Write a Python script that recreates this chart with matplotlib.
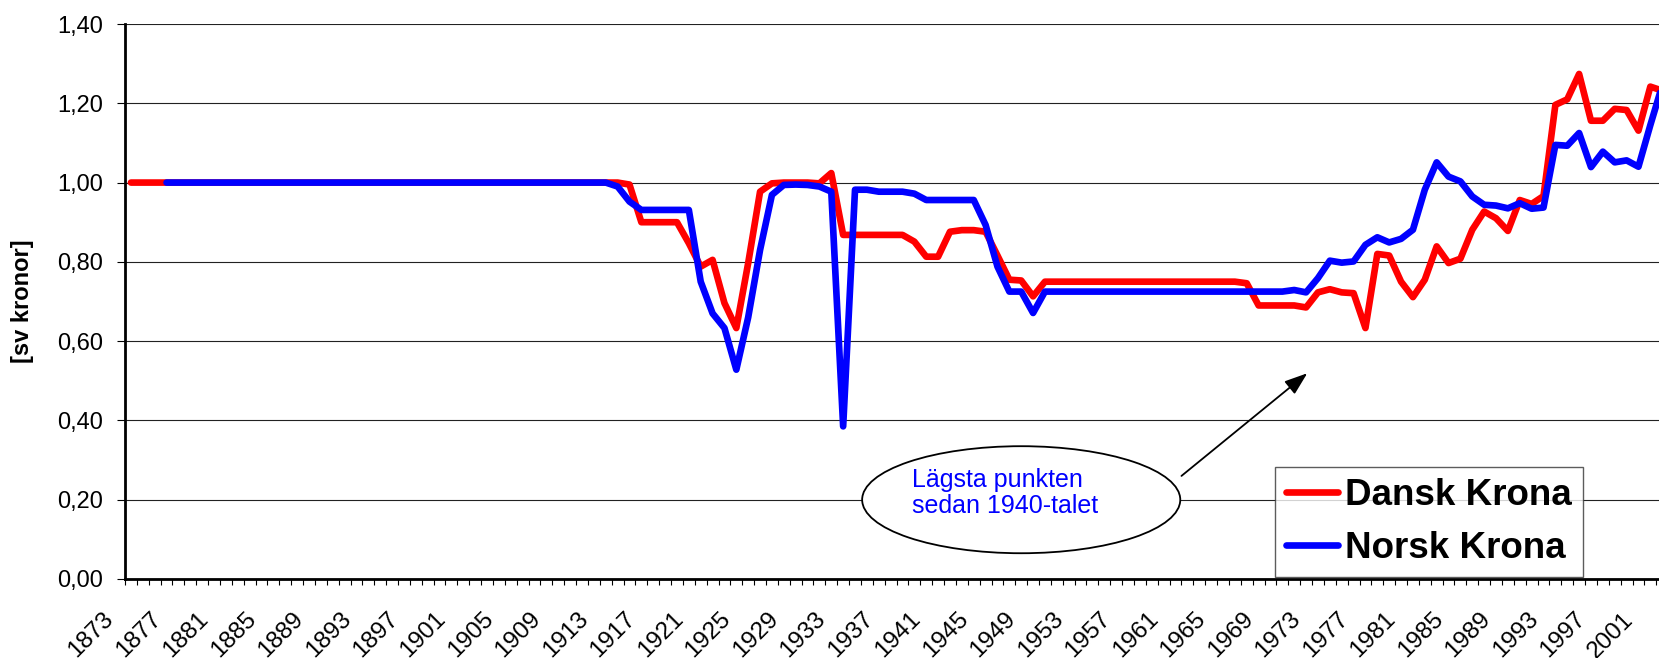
import numpy as np
import matplotlib
matplotlib.use("Agg")
import matplotlib.pyplot as plt
from matplotlib.patches import Ellipse
from matplotlib.transforms import ScaledTranslation

plt.rcParams['font.family'] = ['Liberation Sans', 'DejaVu Sans']

# one value per year, 1873-2002
years = np.arange(1873, 2003)

dansk = ([1.00] * 42                                   # 1873-1914
         + [0.995, 0.90, 0.90, 0.90, 0.90]             # 1915-1919
         + [0.847, 0.788, 0.805, 0.696, 0.633, 0.797, 0.977, 0.998]  # 1920-1927
         + [1.00, 1.00, 1.00, 0.998, 1.024]            # 1928-1932
         + [0.868] * 6                                 # 1933-1938
         + [0.851, 0.813, 0.813, 0.876, 0.88, 0.88, 0.876, 0.816, 0.755, 0.753, 0.713]  # 1939-1949
         + [0.75] * 17                                 # 1950-1966
         + [0.746, 0.69, 0.69, 0.69, 0.69, 0.685]      # 1967-1972
         + [0.723, 0.731, 0.723, 0.721, 0.633, 0.82, 0.816, 0.75, 0.711, 0.755,   # 1973-1982
            0.839, 0.797, 0.808, 0.881, 0.927, 0.91, 0.878, 0.956, 0.946, 0.966,  # 1983-1992
            1.196, 1.21, 1.274, 1.156, 1.156, 1.186, 1.183, 1.131, 1.242, 1.232]) # 1993-2002

norsk = ([np.nan] * 3                                  # 1873-1875
         + [1.00] * 38                                 # 1876-1913
         + [0.99, 0.952]                               # 1914-1915
         + [0.931] * 5                                 # 1916-1920
         + [0.75, 0.67, 0.633, 0.528, 0.66, 0.83, 0.969, 0.994, 0.995, 0.994,  # 1921-1930
            0.99, 0.977, 0.385, 0.982, 0.982]          # 1931-1935
         + [0.977] * 3                                 # 1936-1938
         + [0.972]                                     # 1939
         + [0.956] * 5                                 # 1940-1944
         + [0.893, 0.788, 0.725, 0.725, 0.671]         # 1945-1949
         + [0.725] * 21                                # 1950-1970
         + [0.729, 0.723]                              # 1971-1972
         + [0.759, 0.803, 0.798, 0.801, 0.843, 0.862, 0.849, 0.858, 0.881, 0.982,  # 1973-1982
            1.051, 1.015, 1.003, 0.965, 0.944, 0.942, 0.935, 0.948, 0.934, 0.937,  # 1983-1992
            1.095, 1.093, 1.125, 1.039, 1.078, 1.051, 1.056, 1.04, 1.145, 1.245])  # 1993-2002

label_years = np.arange(1873, 2002, 4)
y_ticks = [0.0, 0.2, 0.4, 0.6, 0.8, 1.0, 1.2, 1.4]
y_labels = ['0,00', '0,20', '0,40', '0,60', '0,80', '1,00', '1,20', '1,40']

fig = plt.figure(figsize=(16.59, 6.58), dpi=100)
ax = fig.add_axes([125 / 1659, 79 / 658, 1534 / 1659, 555 / 658])

ax.plot(years, dansk, color='#ff0000', lw=4.8, solid_joinstyle='round',
        solid_capstyle='round', label='Dansk Krona', zorder=4)
ax.plot(years, norsk, color='#0000ff', lw=4.8, solid_joinstyle='round',
        solid_capstyle='round', label='Norsk Krona', zorder=5)

ax.set_xlim(1872.5, 2001.73)
ax.set_ylim(0, 1.4)

# y axis
ax.set_yticks(y_ticks)
ax.set_yticklabels(y_labels)
ax.yaxis.grid(True, color='#222222', lw=0.8)
ax.set_axisbelow(True)
ax.tick_params(axis='y', length=6, width=0.8, pad=10, labelsize=17)

# x axis: tick marks between categories, labels every 4 years
ax.set_xticks(label_years)
ax.set_xticklabels([str(y) for y in label_years], rotation=45, ha='right', va='top')
ax.set_xticks(np.arange(1872.5, 2002, 1), minor=True)
ax.tick_params(axis='x', which='major', length=0, pad=21, labelsize=17.5)
ax.tick_params(axis='x', which='minor', length=4.5, width=0.8)
shift = ScaledTranslation(-0.13, 0, fig.dpi_scale_trans)
for lab in ax.get_xticklabels():
    lab.set_transform(lab.get_transform() + shift)

ax.spines['top'].set_visible(False)
ax.spines['right'].set_visible(False)
ax.spines['left'].set_linewidth(2)
ax.spines['bottom'].set_linewidth(2)

fig.text(23 / 1659, 1 - 301 / 658, '[sv kronor]', rotation=90, ha='center',
         va='center', fontsize=17, fontweight='bold')

# callout
ell = Ellipse((1948.0, 0.2), 26.8, 0.27, facecolor='white', edgecolor='black',
              lw=1.3, zorder=3)
ax.add_patch(ell)
ax.text(1938.8, 0.217, 'Lägsta punkten\nsedan 1940-talet', color='#0000ff',
        fontsize=18, ha='left', va='center', linespacing=1.1, zorder=6)
ax.annotate('', xy=(1972.1, 0.519), xytext=(1961.5, 0.26),
            arrowprops=dict(arrowstyle='-|>,head_length=0.7,head_width=0.25',
                            color='black', lw=1.3, mutation_scale=20,
                            shrinkA=0, shrinkB=0), zorder=6)

leg = ax.legend(loc='lower right', bbox_to_anchor=(0.9505, 0.0036),
                borderaxespad=0, fancybox=False, frameon=True,
                prop={'size': 26.5, 'weight': 'bold'}, handlelength=1.4,
                handletextpad=0.2, borderpad=0.3, labelspacing=0.5)
leg.get_frame().set_edgecolor('#333333')
leg.get_frame().set_linewidth(1.0)
leg.set_zorder(7)

fig.savefig('out.png', dpi=100, facecolor='white')
